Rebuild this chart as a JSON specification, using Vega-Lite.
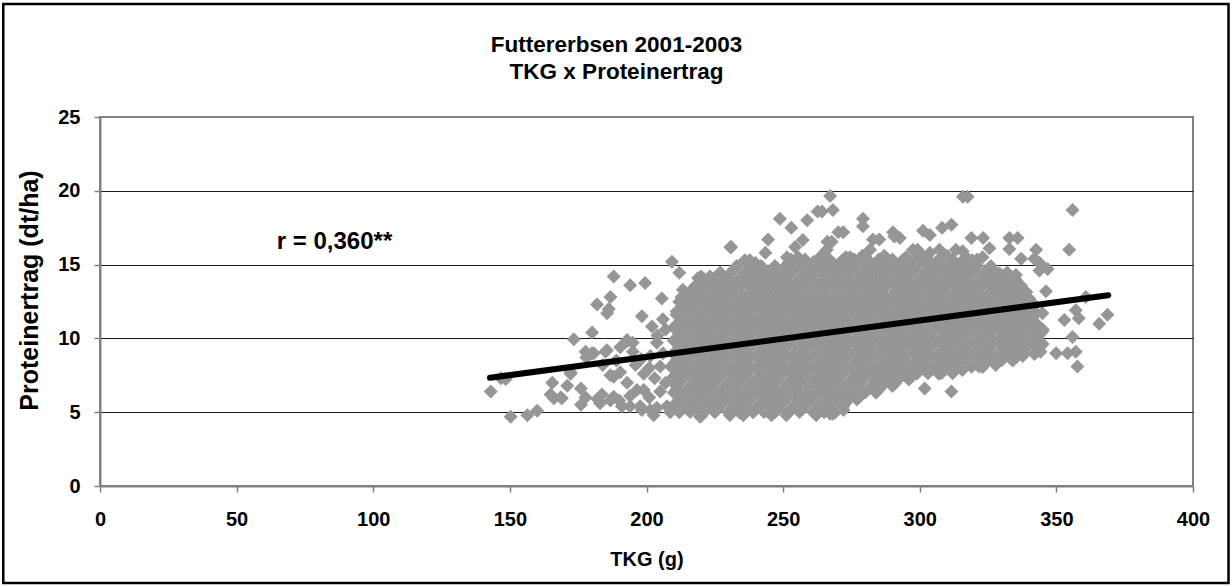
{
  "$schema": "https://vega.github.io/schema/vega-lite/v6.json",
  "width": 1093,
  "height": 369,
  "autosize": "none",
  "padding": {"left": 100, "top": 117, "right": 39, "bottom": 101},
  "background": "white",
  "config": {
    "view": {"stroke": "#808080", "strokeWidth": 2},
    "font": "Liberation Sans"
  },
  "title": {
    "text": ["Futtererbsen 2001-2003", "TKG x Proteinertrag"],
    "font": "Liberation Sans",
    "fontSize": 22.5,
    "fontWeight": "bold",
    "color": "black",
    "anchor": "middle",
    "dx": -30,
    "offset": -81,
    "lineHeight": 27
  },
  "encoding": {
    "x": {
      "field": "t",
      "type": "quantitative",
      "scale": {"domain": [0, 400], "nice": false, "zero": false},
      "axis": {
        "values": [0, 50, 100, 150, 200, 250, 300, 350, 400],
        "grid": false,
        "domainColor": "#808080",
        "domainWidth": 2,
        "tickColor": "#808080",
        "tickSize": 6,
        "tickWidth": 1.5,
        "labelFont": "Liberation Sans",
        "labelFontSize": 20,
        "labelFontWeight": "bold",
        "labelColor": "black",
        "labelPadding": 17,
        "labelFlush": false,
        "title": "TKG (g)",
        "titleFont": "Liberation Sans",
        "titleFontSize": 20,
        "titleFontWeight": "bold",
        "titleColor": "black",
        "titlePadding": 20
      }
    },
    "y": {
      "field": "p",
      "type": "quantitative",
      "scale": {"domain": [0, 25], "nice": false, "zero": false},
      "axis": {
        "values": [0, 5, 10, 15, 20, 25],
        "grid": true,
        "gridColor": {"condition": {"test": "datum.value === 25 || datum.value === 0", "value": "#808080"}, "value": "#1a1a1a"},
        "gridWidth": 1,
        "domainColor": "#808080",
        "domainWidth": 2,
        "tickColor": "#808080",
        "tickSize": 6,
        "tickWidth": 1.5,
        "labelFont": "Liberation Sans",
        "labelFontSize": 20,
        "labelFontWeight": "bold",
        "labelColor": "black",
        "labelPadding": 14,
        "title": "Proteinertrag (dt/ha)",
        "titleFont": "Liberation Sans",
        "titleFontSize": 25,
        "titleFontWeight": "bold",
        "titleColor": "black",
        "titleBaseline": "middle",
        "titleX": -71,
        "titleY": 173
      }
    }
  },
  "layer": [
    {
      "data": {"values": [{"t": -35.4, "t2": 413, "p": -6.58, "p2": 32.66}]},
      "mark": {"type": "rect", "filled": false, "fill": null, "stroke": "black", "strokeWidth": 2.5, "clip": false},
      "encoding": {"x2": {"field": "t2"}, "y2": {"field": "p2"}}
    },
    {
      "data": {
        "format": {"type": "csv", "parse": {"t": "number", "p": "number"}},
        "values": "t,p\n212,5.0\n216,5.02\n221,4.98\n225,5.0\n230,5.02\n234,4.98\n239,5.0\n243,5.02\n247,5.0\n252,4.98\n256,5.02\n261,5.0\n265,5.0\n269,4.98\n210,5.44\n214,5.46\n219,5.42\n223,5.44\n227,5.46\n232,5.44\n236,5.42\n241,5.44\n245,5.46\n249,5.44\n254,5.42\n258,5.44\n263,5.46\n267,5.44\n272,5.42\n212,5.88\n216,5.86\n221,5.9\n225,5.88\n229,5.86\n234,5.88\n238,5.9\n243,5.88\n247,5.86\n251,5.88\n256,5.9\n260,5.88\n265,5.86\n269,5.88\n273,5.9\n277,5.88\n210,6.32\n214,6.34\n219,6.3\n223,6.32\n227,6.34\n232,6.32\n236,6.3\n241,6.32\n245,6.34\n249,6.32\n254,6.3\n258,6.32\n263,6.34\n267,6.32\n271,6.3\n276,6.32\n280,6.34\n284,6.32\n211,6.76\n216,6.74\n220,6.78\n224,6.76\n229,6.74\n233,6.76\n238,6.78\n242,6.76\n246,6.74\n251,6.76\n255,6.78\n260,6.76\n264,6.74\n268,6.76\n273,6.78\n277,6.76\n282,6.74\n286,6.76\n290,6.78\n209,7.2\n213,7.22\n218,7.18\n222,7.2\n226,7.22\n231,7.2\n235,7.18\n240,7.2\n244,7.22\n248,7.2\n253,7.18\n257,7.2\n262,7.22\n266,7.2\n270,7.18\n275,7.2\n279,7.22\n284,7.2\n288,7.18\n292,7.2\n296,7.22\n211,7.64\n215,7.62\n220,7.66\n224,7.64\n228,7.62\n233,7.64\n237,7.66\n242,7.64\n246,7.62\n250,7.64\n255,7.66\n259,7.64\n264,7.62\n268,7.64\n272,7.66\n277,7.64\n281,7.62\n286,7.64\n290,7.66\n294,7.64\n299,7.62\n303,7.64\n308,7.66\n312,7.64\n209,8.08\n213,8.1\n218,8.06\n222,8.08\n226,8.1\n231,8.08\n235,8.06\n240,8.08\n244,8.1\n248,8.08\n253,8.06\n257,8.08\n262,8.1\n266,8.08\n270,8.06\n275,8.08\n279,8.1\n284,8.08\n288,8.06\n292,8.08\n297,8.1\n301,8.08\n306,8.06\n310,8.08\n314,8.1\n319,8.08\n323,8.06\n211,8.52\n215,8.5\n220,8.54\n224,8.52\n228,8.5\n233,8.52\n237,8.54\n242,8.52\n246,8.5\n250,8.52\n255,8.54\n259,8.52\n264,8.5\n268,8.52\n272,8.54\n277,8.52\n281,8.5\n286,8.52\n290,8.54\n294,8.52\n299,8.5\n303,8.52\n308,8.54\n312,8.52\n316,8.5\n321,8.52\n325,8.54\n330,8.52\n334,8.5\n210,8.96\n214,8.98\n219,8.94\n223,8.96\n227,8.98\n232,8.96\n236,8.94\n241,8.96\n245,8.98\n249,8.96\n254,8.94\n258,8.96\n263,8.98\n267,8.96\n271,8.94\n276,8.96\n280,8.98\n285,8.96\n289,8.94\n293,8.96\n298,8.98\n302,8.96\n307,8.94\n311,8.96\n315,8.98\n320,8.96\n324,8.94\n329,8.96\n333,8.98\n337,8.96\n342,8.94\n212,9.4\n216,9.38\n221,9.42\n225,9.4\n229,9.38\n234,9.4\n238,9.42\n243,9.4\n247,9.38\n251,9.4\n256,9.42\n260,9.4\n265,9.38\n269,9.4\n273,9.42\n278,9.4\n282,9.38\n287,9.4\n291,9.42\n295,9.4\n300,9.38\n304,9.4\n309,9.42\n313,9.4\n317,9.38\n322,9.4\n326,9.42\n331,9.4\n335,9.38\n339,9.4\n344,9.42\n210,9.84\n214,9.86\n219,9.82\n223,9.84\n227,9.86\n232,9.84\n236,9.82\n241,9.84\n245,9.86\n249,9.84\n254,9.82\n258,9.84\n263,9.86\n267,9.84\n271,9.82\n276,9.84\n280,9.86\n285,9.84\n289,9.82\n293,9.84\n298,9.86\n302,9.84\n307,9.82\n311,9.84\n315,9.86\n320,9.84\n324,9.82\n329,9.84\n333,9.86\n337,9.84\n342,9.82\n212,10.28\n216,10.26\n221,10.3\n225,10.28\n229,10.26\n234,10.28\n238,10.3\n243,10.28\n247,10.26\n251,10.28\n256,10.3\n260,10.28\n265,10.26\n269,10.28\n273,10.3\n278,10.28\n282,10.26\n287,10.28\n291,10.3\n295,10.28\n300,10.26\n304,10.28\n309,10.3\n313,10.28\n317,10.26\n322,10.28\n326,10.3\n331,10.28\n335,10.26\n339,10.28\n344,10.3\n210,10.72\n214,10.74\n219,10.7\n223,10.72\n227,10.74\n232,10.72\n236,10.7\n241,10.72\n245,10.74\n249,10.72\n254,10.7\n258,10.72\n263,10.74\n267,10.72\n271,10.7\n276,10.72\n280,10.74\n285,10.72\n289,10.7\n293,10.72\n298,10.74\n302,10.72\n307,10.7\n311,10.72\n315,10.74\n320,10.72\n324,10.7\n329,10.72\n333,10.74\n337,10.72\n342,10.7\n213,11.16\n217,11.14\n222,11.18\n226,11.16\n230,11.14\n235,11.16\n239,11.18\n244,11.16\n248,11.14\n252,11.16\n257,11.18\n261,11.16\n266,11.14\n270,11.16\n274,11.18\n279,11.16\n283,11.14\n288,11.16\n292,11.18\n296,11.16\n301,11.14\n305,11.16\n310,11.18\n314,11.16\n318,11.14\n323,11.16\n327,11.18\n332,11.16\n336,11.14\n340,11.16\n211,11.6\n215,11.62\n220,11.58\n224,11.6\n228,11.62\n233,11.6\n237,11.58\n242,11.6\n246,11.62\n250,11.6\n255,11.58\n259,11.6\n264,11.62\n268,11.6\n272,11.58\n277,11.6\n281,11.62\n286,11.6\n290,11.58\n294,11.6\n299,11.62\n303,11.6\n308,11.58\n312,11.6\n316,11.62\n321,11.6\n325,11.58\n330,11.6\n334,11.62\n338,11.6\n342,11.58\n214,12.04\n218,12.02\n223,12.06\n227,12.04\n231,12.02\n236,12.04\n240,12.06\n245,12.04\n249,12.02\n253,12.04\n258,12.06\n262,12.04\n267,12.02\n271,12.04\n275,12.06\n280,12.04\n284,12.02\n289,12.04\n293,12.06\n297,12.04\n302,12.02\n306,12.04\n311,12.06\n315,12.04\n319,12.02\n324,12.04\n328,12.06\n333,12.04\n337,12.02\n341,12.04\n212,12.48\n216,12.5\n221,12.46\n225,12.48\n229,12.5\n234,12.48\n238,12.46\n243,12.48\n247,12.5\n251,12.48\n256,12.46\n260,12.48\n265,12.5\n269,12.48\n273,12.46\n278,12.48\n282,12.5\n287,12.48\n291,12.46\n295,12.48\n300,12.5\n304,12.48\n309,12.46\n313,12.48\n317,12.5\n322,12.48\n326,12.46\n331,12.48\n335,12.5\n339,12.48\n215,12.92\n219,12.9\n224,12.94\n228,12.92\n232,12.9\n237,12.92\n241,12.94\n246,12.92\n250,12.9\n254,12.92\n259,12.94\n263,12.92\n268,12.9\n272,12.92\n276,12.94\n281,12.92\n285,12.9\n290,12.92\n294,12.94\n298,12.92\n303,12.9\n307,12.92\n312,12.94\n316,12.92\n320,12.9\n325,12.92\n329,12.94\n334,12.92\n338,12.9\n217,13.36\n221,13.38\n226,13.34\n230,13.36\n234,13.38\n239,13.36\n243,13.34\n248,13.36\n252,13.38\n256,13.36\n261,13.34\n265,13.36\n270,13.38\n274,13.36\n278,13.34\n283,13.36\n287,13.38\n292,13.36\n296,13.34\n300,13.36\n305,13.38\n309,13.36\n314,13.34\n318,13.36\n322,13.38\n327,13.36\n331,13.34\n336,13.36\n220,13.8\n224,13.78\n229,13.82\n233,13.8\n237,13.78\n242,13.8\n246,13.82\n250,13.8\n255,13.78\n259,13.8\n264,13.82\n268,13.8\n272,13.78\n277,13.8\n281,13.82\n286,13.8\n290,13.78\n294,13.8\n299,13.82\n303,13.8\n308,13.78\n312,13.8\n316,13.82\n321,13.8\n325,13.78\n330,13.8\n334,13.82\n226,14.24\n230,14.26\n235,14.22\n239,14.24\n243,14.26\n248,14.24\n252,14.22\n257,14.24\n261,14.26\n265,14.24\n270,14.22\n274,14.24\n279,14.26\n283,14.24\n287,14.22\n292,14.24\n296,14.26\n301,14.24\n305,14.22\n309,14.24\n314,14.26\n318,14.24\n323,14.22\n327,14.24\n331,14.26\n232,14.68\n237,14.66\n241,14.7\n246,14.68\n250,14.66\n254,14.68\n259,14.7\n263,14.68\n268,14.66\n272,14.68\n276,14.7\n281,14.68\n285,14.66\n290,14.68\n294,14.7\n298,14.68\n303,14.66\n307,14.68\n312,14.7\n316,14.68\n320,14.66\n325,14.68\n252,15.12\n257,15.14\n262,15.1\n266,15.12\n271,15.14\n275,15.12\n280,15.1\n284,15.12\n289,15.14\n293,15.12\n298,15.1\n302,15.12\n306,15.14\n311,15.12\n315,15.1\n320,15.12\n264,15.6\n273,15.5\n279,15.6\n287,15.6\n295,15.5\n301,15.6\n310,15.6\n317,15.5\n213,5.22\n217,5.22\n222,5.22\n226,5.22\n231,5.22\n235,5.22\n240,5.22\n244,5.22\n248,5.22\n253,5.22\n257,5.22\n262,5.22\n266,5.22\n270,5.22\n211,5.66\n215,5.66\n220,5.66\n224,5.66\n228,5.66\n233,5.66\n237,5.66\n242,5.66\n246,5.66\n250,5.66\n255,5.66\n259,5.66\n264,5.66\n268,5.66\n273,5.66\n213,6.1\n217,6.1\n222,6.1\n226,6.1\n230,6.1\n235,6.1\n239,6.1\n244,6.1\n248,6.1\n252,6.1\n257,6.1\n261,6.1\n266,6.1\n270,6.1\n274,6.1\n278,6.1\n211,6.54\n215,6.54\n220,6.54\n224,6.54\n228,6.54\n233,6.54\n237,6.54\n242,6.54\n246,6.54\n250,6.54\n255,6.54\n259,6.54\n264,6.54\n268,6.54\n272,6.54\n277,6.54\n281,6.54\n285,6.54\n212,6.98\n217,6.98\n221,6.98\n225,6.98\n230,6.98\n234,6.98\n239,6.98\n243,6.98\n247,6.98\n252,6.98\n256,6.98\n261,6.98\n265,6.98\n269,6.98\n274,6.98\n278,6.98\n283,6.98\n287,6.98\n291,6.98\n210,7.42\n214,7.42\n219,7.42\n223,7.42\n227,7.42\n232,7.42\n236,7.42\n241,7.42\n245,7.42\n249,7.42\n254,7.42\n258,7.42\n263,7.42\n267,7.42\n271,7.42\n276,7.42\n280,7.42\n285,7.42\n289,7.42\n293,7.42\n297,7.42\n212,7.86\n216,7.86\n221,7.86\n225,7.86\n229,7.86\n234,7.86\n238,7.86\n243,7.86\n247,7.86\n251,7.86\n256,7.86\n260,7.86\n265,7.86\n269,7.86\n273,7.86\n278,7.86\n282,7.86\n287,7.86\n291,7.86\n295,7.86\n300,7.86\n304,7.86\n309,7.86\n313,7.86\n210,8.3\n214,8.3\n219,8.3\n223,8.3\n227,8.3\n232,8.3\n236,8.3\n241,8.3\n245,8.3\n249,8.3\n254,8.3\n258,8.3\n263,8.3\n267,8.3\n271,8.3\n276,8.3\n280,8.3\n285,8.3\n289,8.3\n293,8.3\n298,8.3\n302,8.3\n307,8.3\n311,8.3\n315,8.3\n320,8.3\n324,8.3\n212,8.74\n216,8.74\n221,8.74\n225,8.74\n229,8.74\n234,8.74\n238,8.74\n243,8.74\n247,8.74\n251,8.74\n256,8.74\n260,8.74\n265,8.74\n269,8.74\n273,8.74\n278,8.74\n282,8.74\n287,8.74\n291,8.74\n295,8.74\n300,8.74\n304,8.74\n309,8.74\n313,8.74\n317,8.74\n322,8.74\n326,8.74\n331,8.74\n335,8.74\n211,9.18\n215,9.18\n220,9.18\n224,9.18\n228,9.18\n233,9.18\n237,9.18\n242,9.18\n246,9.18\n250,9.18\n255,9.18\n259,9.18\n264,9.18\n268,9.18\n272,9.18\n277,9.18\n281,9.18\n286,9.18\n290,9.18\n294,9.18\n299,9.18\n303,9.18\n308,9.18\n312,9.18\n316,9.18\n321,9.18\n325,9.18\n330,9.18\n334,9.18\n338,9.18\n343,9.18\n213,9.62\n217,9.62\n222,9.62\n226,9.62\n230,9.62\n235,9.62\n239,9.62\n244,9.62\n248,9.62\n252,9.62\n257,9.62\n261,9.62\n266,9.62\n270,9.62\n274,9.62\n279,9.62\n283,9.62\n288,9.62\n292,9.62\n296,9.62\n301,9.62\n305,9.62\n310,9.62\n314,9.62\n318,9.62\n323,9.62\n327,9.62\n332,9.62\n336,9.62\n340,9.62\n345,9.62\n211,10.06\n215,10.06\n220,10.06\n224,10.06\n228,10.06\n233,10.06\n237,10.06\n242,10.06\n246,10.06\n250,10.06\n255,10.06\n259,10.06\n264,10.06\n268,10.06\n272,10.06\n277,10.06\n281,10.06\n286,10.06\n290,10.06\n294,10.06\n299,10.06\n303,10.06\n308,10.06\n312,10.06\n316,10.06\n321,10.06\n325,10.06\n330,10.06\n334,10.06\n338,10.06\n343,10.06\n213,10.5\n217,10.5\n222,10.5\n226,10.5\n230,10.5\n235,10.5\n239,10.5\n244,10.5\n248,10.5\n252,10.5\n257,10.5\n261,10.5\n266,10.5\n270,10.5\n274,10.5\n279,10.5\n283,10.5\n288,10.5\n292,10.5\n296,10.5\n301,10.5\n305,10.5\n310,10.5\n314,10.5\n318,10.5\n323,10.5\n327,10.5\n332,10.5\n336,10.5\n340,10.5\n345,10.5\n211,10.94\n215,10.94\n220,10.94\n224,10.94\n228,10.94\n233,10.94\n237,10.94\n242,10.94\n246,10.94\n250,10.94\n255,10.94\n259,10.94\n264,10.94\n268,10.94\n272,10.94\n277,10.94\n281,10.94\n286,10.94\n290,10.94\n294,10.94\n299,10.94\n303,10.94\n308,10.94\n312,10.94\n316,10.94\n321,10.94\n325,10.94\n330,10.94\n334,10.94\n338,10.94\n343,10.94\n214,11.38\n218,11.38\n223,11.38\n227,11.38\n231,11.38\n236,11.38\n240,11.38\n245,11.38\n249,11.38\n253,11.38\n258,11.38\n262,11.38\n267,11.38\n271,11.38\n275,11.38\n280,11.38\n284,11.38\n289,11.38\n293,11.38\n297,11.38\n302,11.38\n306,11.38\n311,11.38\n315,11.38\n319,11.38\n324,11.38\n328,11.38\n333,11.38\n337,11.38\n341,11.38\n211,11.82\n215,11.82\n220,11.82\n224,11.82\n228,11.82\n233,11.82\n237,11.82\n242,11.82\n246,11.82\n250,11.82\n255,11.82\n259,11.82\n264,11.82\n268,11.82\n272,11.82\n277,11.82\n281,11.82\n286,11.82\n290,11.82\n294,11.82\n299,11.82\n303,11.82\n308,11.82\n312,11.82\n316,11.82\n321,11.82\n325,11.82\n330,11.82\n334,11.82\n338,11.82\n342,11.82\n215,12.26\n219,12.26\n224,12.26\n228,12.26\n232,12.26\n237,12.26\n241,12.26\n246,12.26\n250,12.26\n254,12.26\n259,12.26\n263,12.26\n268,12.26\n272,12.26\n276,12.26\n281,12.26\n285,12.26\n290,12.26\n294,12.26\n298,12.26\n303,12.26\n307,12.26\n312,12.26\n316,12.26\n320,12.26\n325,12.26\n329,12.26\n334,12.26\n338,12.26\n342,12.26\n213,12.7\n217,12.7\n222,12.7\n226,12.7\n230,12.7\n235,12.7\n239,12.7\n244,12.7\n248,12.7\n252,12.7\n257,12.7\n261,12.7\n266,12.7\n270,12.7\n274,12.7\n279,12.7\n283,12.7\n288,12.7\n292,12.7\n296,12.7\n301,12.7\n305,12.7\n310,12.7\n314,12.7\n318,12.7\n323,12.7\n327,12.7\n332,12.7\n336,12.7\n340,12.7\n216,13.14\n220,13.14\n225,13.14\n229,13.14\n233,13.14\n238,13.14\n242,13.14\n247,13.14\n251,13.14\n255,13.14\n260,13.14\n264,13.14\n269,13.14\n273,13.14\n277,13.14\n282,13.14\n286,13.14\n291,13.14\n295,13.14\n299,13.14\n304,13.14\n308,13.14\n313,13.14\n317,13.14\n321,13.14\n326,13.14\n330,13.14\n335,13.14\n339,13.14\n218,13.58\n222,13.58\n227,13.58\n231,13.58\n235,13.58\n240,13.58\n244,13.58\n249,13.58\n253,13.58\n257,13.58\n262,13.58\n266,13.58\n271,13.58\n275,13.58\n279,13.58\n284,13.58\n288,13.58\n293,13.58\n297,13.58\n301,13.58\n306,13.58\n310,13.58\n315,13.58\n319,13.58\n323,13.58\n328,13.58\n332,13.58\n337,13.58\n221,14.02\n225,14.02\n230,14.02\n234,14.02\n238,14.02\n243,14.02\n247,14.02\n251,14.02\n256,14.02\n260,14.02\n265,14.02\n269,14.02\n273,14.02\n278,14.02\n282,14.02\n287,14.02\n291,14.02\n295,14.02\n300,14.02\n304,14.02\n309,14.02\n313,14.02\n317,14.02\n322,14.02\n326,14.02\n331,14.02\n335,14.02\n227,14.46\n231,14.46\n236,14.46\n240,14.46\n244,14.46\n249,14.46\n253,14.46\n258,14.46\n262,14.46\n266,14.46\n271,14.46\n275,14.46\n280,14.46\n284,14.46\n288,14.46\n293,14.46\n297,14.46\n302,14.46\n306,14.46\n310,14.46\n315,14.46\n319,14.46\n324,14.46\n328,14.46\n332,14.46\n233,14.9\n238,14.9\n242,14.9\n247,14.9\n251,14.9\n255,14.9\n260,14.9\n264,14.9\n269,14.9\n273,14.9\n277,14.9\n282,14.9\n286,14.9\n291,14.9\n295,14.9\n299,14.9\n304,14.9\n308,14.9\n313,14.9\n317,14.9\n321,14.9\n326,14.9\n253,15.34\n258,15.34\n263,15.34\n267,15.34\n272,15.34\n276,15.34\n281,15.34\n285,15.34\n290,15.34\n294,15.34\n299,15.34\n303,15.34\n307,15.34\n312,15.34\n316,15.34\n321,15.34\n143,6.4\n148.5,7.25\n150.3,4.7\n156.4,4.8\n160,5.1\n165.5,7.0\n168.6,6.0\n164.9,6.2\n172.2,7.6\n173.4,9.95\n180.1,10.4\n181.9,12.3\n186.8,12.8\n185.6,11.7\n198.3,11.5\n205.6,12.7\n194,13.6\n199.5,13.75\n188,14.2\n177.7,6.0\n183,5.6\n186.8,5.8\n180,9.0\n185,9.1\n192.9,9.8\n195,9.1\n186.8,7.5\n190.4,7.7\n192.9,7.0\n197.7,5.4\n201.4,5.15\n209.3,15.2\n212,14.45\n213.3,13.3\n220,14.2\n227,14.2\n231,16.2\n236,15.3\n244.5,16.7\n248.8,18.1\n253,17.5\n258.8,18.0\n262.6,18.6\n220,4.75\n246,4.9\n251.7,4.95\n177.7,9.1\n188,7.4\n195,9.7\n201.4,8.8\n205,8.1\n183.7,6.2\n196.5,6.5\n194,5.4\n203.8,5.3\n208.7,5.0\n186.2,12.0\n203.8,9.7\n212.9,12.8\n166.1,5.94\n169,5.94\n188,6.05\n191,5.4\n199,6.5\n198.3,5.15\n203,5.15\n207.5,5.4\n180.7,9.0\n185.5,9.2\n190.4,9.4\n192.9,9.9\n172.2,7.7\n146.7,7.3\n176,5.5\n182,5.9\n190,5.8\n194,6.1\n201,6.0\n205,6.4\n207,7.0\n203,7.3\n199,7.6\n196,8.2\n201,8.0\n206,9.0\n204,10.2\n207,10.6\n198,8.6\n189,8.5\n184,8.2\n178,8.7\n206,11.3\n202,10.8\n176,6.6\n171,6.8\n355.9,18.7\n354.7,16.0\n342.6,16.0\n346.8,14.7\n346.2,13.2\n360.8,12.8\n368.7,11.6\n365.7,11.0\n352.9,11.25\n358.2,11.36\n355.9,10.1\n344.2,9.1\n349.9,9.0\n354.1,9.0\n357.1,9.1\n357.7,8.1\n337.7,8.8\n344.9,11.7\n336.5,12.6\n335.2,14.3\n343.9,15.1\n332.8,16.8\n335.8,16.8\n329.2,14.4\n311.6,6.4\n301.8,6.6\n267.2,4.9\n272.1,5.15\n341.9,15.4\n337.1,15.4\n343.8,14.6\n357.1,11.9\n345,10.6\n335.2,8.7\n332.8,16.05\n267.2,19.65\n264.2,18.6\n268.2,18.7\n279.2,18.1\n279.2,17.6\n272,17.2\n290.2,17.2\n292.7,16.8\n301.2,17.3\n303.7,17.0\n308.2,17.5\n311.6,17.7\n315.8,19.6\n317.5,19.6\n318.9,16.8\n323.2,16.8\n325.5,16.1\n285.2,16.7\n299.2,16.0\n313.2,16.0\n257.2,16.67\n266.2,16.55\n230.7,16.17\n282.9,16.7\n290.7,16.9\n281.8,16.0\n274.5,15.5\n297.5,16.0\n303.7,15.8\n307.2,16.0\n315.7,15.9\n319.2,15.3\n323,15.5\n270.2,17.2\n267.8,16.55\n254.4,16.2\n251.4,15.5\n255.5,15.5\n266,16.0\n261.2,15.2\n239.9,15.1\n243.5,15.8\n237.8,15.3\n223.2,14.2\n226.9,14.3\n218.9,14.1\n219.6,4.7\n202.6,4.8\n230.5,4.8\n235.4,4.8\n245.7,4.8\n251.2,4.8\n262.1,4.8\n268.2,4.9\n277.3,5.96\n271.8,5.37\n278,6.05\n285.2,6.98\n291.3,7.2\n296.2,7.74\n307,7.6\n315.6,7.86\n321.7,8.1\n327.8,8.2\n332.6,8.76\n337.5,9.0"
      },
      "mark": {"type": "point", "shape": "diamond", "filled": true, "size": 196, "color": "#969696", "opacity": 1, "strokeWidth": 0}
    },
    {
      "data": {"values": [{"t": 142.7, "p": 7.33}, {"t": 369, "p": 12.92}]},
      "mark": {"type": "line", "color": "black", "strokeWidth": 6, "strokeCap": "round"}
    },
    {
      "data": {"values": [{"t": 64.7, "p": 16.56, "label": "r = 0,360**"}]},
      "mark": {"type": "text", "align": "left", "baseline": "middle", "font": "Liberation Sans", "fontSize": 24, "fontWeight": "bold", "color": "black"},
      "encoding": {"text": {"field": "label"}}
    }
  ]
}
